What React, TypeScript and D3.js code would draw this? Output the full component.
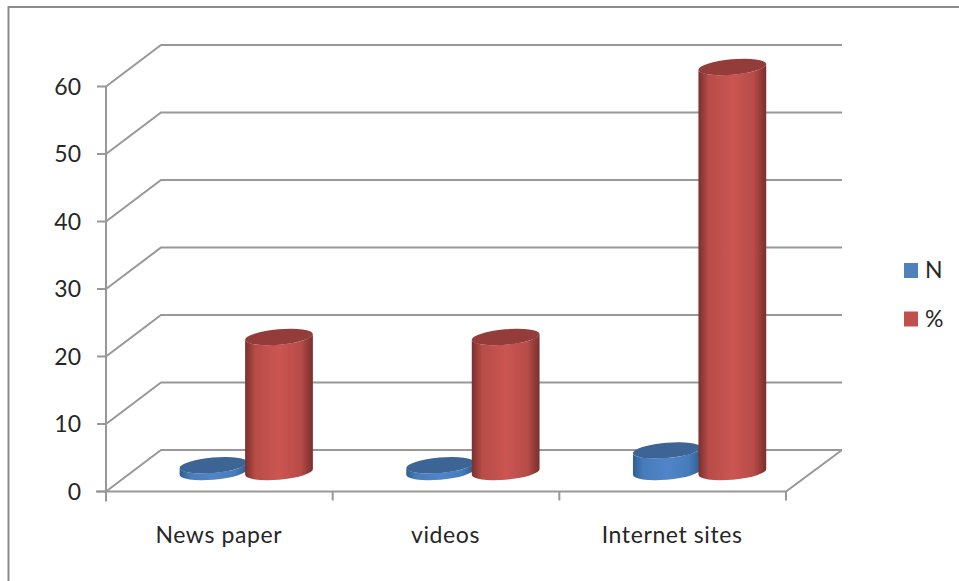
import React from "react";
import * as d3 from "d3";

const categories = ["News paper", "videos", "Internet sites"];
const seriesN = [1, 1, 3.2];
const seriesPct = [20, 20, 60];
const yTicks = [0, 10, 20, 30, 40, 50, 60];
const legendItems = ["N", "%"];

const WIDTH = 959;
const HEIGHT = 581;
const FONT = "Lato, 'Open Sans', sans-serif";
const GRID = "#989898";
const TEXT = "#262626";

// Front plane of the 3D box and the depth offset to its back wall.
const y = d3.scaleLinear().domain([0, 60]).range([491.5, 86.5]);
const x = d3.scaleBand<string>().domain(categories).range([106, 786]);
const depthX = 55;
const depthY = -41.5;

// Cylinders stand mid-way into the floor.
const barBaseOffset = -19.5;
const barRx = 34;
const barRy = 7.7;
const tilt = -5;
const tiltRad = (tilt * Math.PI) / 180;
// Tangent points of the tilted ellipse where the vertical sides touch it.
const halfW = Math.sqrt(barRx * barRx * Math.cos(tiltRad) ** 2 + barRy * barRy * Math.sin(tiltRad) ** 2);
const edgeDy = ((barRx * barRx - barRy * barRy) * Math.sin(tiltRad) * Math.cos(tiltRad)) / halfW;

function bodyPath(cx: number, yBase: number, yTop: number) {
  const lx = cx - halfW;
  const rx = cx + halfW;
  return (
    `M${lx},${yTop - edgeDy}L${lx},${yBase - edgeDy}` +
    `A${barRx},${barRy} ${tilt} 0 0 ${rx},${yBase + edgeDy}` +
    `L${rx},${yTop + edgeDy}` +
    `A${barRx},${barRy} ${tilt} 0 1 ${lx},${yTop - edgeDy}Z`
  );
}

function Cylinder({ cx, value, id, top }: { cx: number; value: number; id: string; top: string }) {
  const yBase = y(0) + barBaseOffset;
  const yTop = y(value) + barBaseOffset;
  return (
    <g>
      <path d={bodyPath(cx, yBase, yTop)} fill={`url(#${id})`} />
      <ellipse cx={cx} cy={yTop} rx={barRx} ry={barRy} transform={`rotate(${tilt} ${cx} ${yTop})`} fill={top} />
    </g>
  );
}

function Gradient({ id, edge, mid }: { id: string; edge: string; mid: string }) {
  return (
    <linearGradient id={id} x1="0" x2="1" y1="0" y2="0">
      <stop offset="0" stopColor={edge} />
      <stop offset="0.15" stopColor={d3.interpolateRgb(edge, mid)(0.75)} />
      <stop offset="0.5" stopColor={mid} />
      <stop offset="0.82" stopColor={d3.interpolateRgb(edge, mid)(0.75)} />
      <stop offset="1" stopColor={edge} />
    </linearGradient>
  );
}

export default function App() {
  const floorY = y(0);
  const right = x.range()[1];
  const left = x.range()[0];
  const step = x.bandwidth();
  return (
    <svg
      width={WIDTH}
      height={HEIGHT}
      style={{ position: "absolute", left: 0, top: 0, background: "#fff" }}
      fontFamily={FONT}
    >
      <defs>
        <Gradient id="blueBody" edge="#2f5d92" mid="#4f86c9" />
        <Gradient id="redBody" edge="#7a2f2d" mid="#cb5551" />
      </defs>

      {/* Outer chart border */}
      <path d="M959,7H8.5V581" fill="none" stroke="#8c8c8c" strokeWidth={2} />

      {/* Back wall gridlines with their side-wall returns */}
      <g fill="none" stroke={GRID} strokeWidth={2}>
        {yTicks.map((t) => (
          <path key={t} d={`M${left},${y(t)}L${left + depthX},${y(t) + depthY}H842`} />
        ))}
        {/* Axis and floor */}
        <path d={`M${left},${y(60)}V${floorY + 10}`} />
        <path d={`M${left - 10},${floorY}H${right}L${right + depthX + 1},${floorY + depthY}`} />
        {yTicks.map((t) => (
          <path key={`tick-${t}`} d={`M${left - 9},${y(t)}H${left}`} />
        ))}
        {categories.concat("").map((c, i) => (
          <path key={`cat-${i}`} d={`M${left + step * i},${floorY}v9`} />
        ))}
      </g>

      {/* Cylinders, N behind % within each category */}
      {categories.map((c, i) => {
        const start = x(c)!;
        return (
          <g key={c}>
            <Cylinder cx={start + 107.5} value={seriesN[i]} id="blueBody" top="#3c6595" />
            <Cylinder cx={start + 173} value={seriesPct[i]} id="redBody" top="#933c3a" />
          </g>
        );
      })}

      {/* Value axis labels */}
      <g fontSize={23} fill={TEXT} textAnchor="end">
        {yTicks.map((t) => (
          <text key={t} x={81} y={y(t) + 8}>
            {t}
          </text>
        ))}
      </g>

      {/* Category labels */}
      <g fontSize={23} fill={TEXT} textAnchor="middle" letterSpacing={0.6}>
        {categories.map((c) => (
          <text key={c} x={x(c)! + step / 2 - 0.5} y={543}>
            {c}
          </text>
        ))}
      </g>

      {/* Legend */}
      <g>
        {legendItems.map((label, i) => (
          <g key={label} transform={`translate(904,${263 + i * 48.5})`}>
            <rect width={14} height={15} fill={i === 0 ? "#4f81bd" : "#c0504d"} />
            <text x={21} y={15} fontSize={23} fill={TEXT}>
              {label}
            </text>
          </g>
        ))}
      </g>
    </svg>
  );
}
